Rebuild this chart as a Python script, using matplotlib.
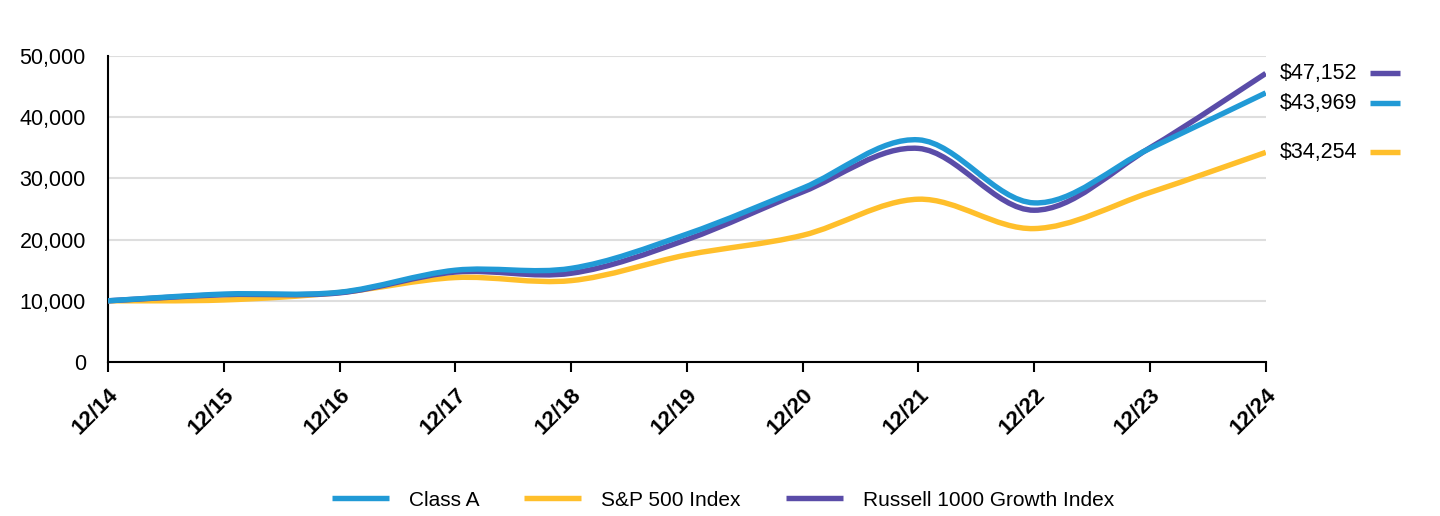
import matplotlib
matplotlib.use("Agg")
import matplotlib.pyplot as plt
from matplotlib.path import Path
from matplotlib.patches import PathPatch
from matplotlib.lines import Line2D
import numpy as np

plt.rcParams['font.family'] = ['Liberation Sans', 'DejaVu Sans']

# data
periods = ["12/14", "12/15", "12/16", "12/17", "12/18", "12/19",
           "12/20", "12/21", "12/22", "12/23", "12/24"]
class_a = [10000, 11100, 11400, 15000, 15300, 20900, 28400, 36300, 26000, 34900, 43969]
sp500 = [10000, 10140, 11350, 13800, 13300, 17500, 20700, 26600, 21800, 27700, 34254]
russell = [10000, 11000, 11300, 14700, 14500, 20000, 27800, 34900, 24800, 35000, 47152]
end_labels = ["$43,969", "$34,254", "$47,152"]

names = ["Class A", "S&P 500 Index", "Russell 1000 Growth Index"]
colors = ["#219ad6", "#ffbf2b", "#5a4ca8"]


def smooth_path(x, y, tension=1 / 6):
    # catmull-rom style cubic bezier through the points
    x = np.asarray(x, float)
    y = np.asarray(y, float)
    verts = [(x[0], y[0])]
    codes = [Path.MOVETO]
    n = len(x)
    for i in range(n - 1):
        p0 = (x[max(i - 1, 0)], y[max(i - 1, 0)])
        p1 = (x[i], y[i])
        p2 = (x[i + 1], y[i + 1])
        p3 = (x[min(i + 2, n - 1)], y[min(i + 2, n - 1)])
        c1 = (p1[0] + (p2[0] - p0[0]) * tension, p1[1] + (p2[1] - p0[1]) * tension)
        c2 = (p2[0] - (p3[0] - p1[0]) * tension, p2[1] - (p3[1] - p1[1]) * tension)
        verts += [c1, c2, p2]
        codes += [Path.CURVE4] * 3
    return Path(verts, codes)


fig = plt.figure(figsize=(14.4, 5.16), dpi=100)
ax = fig.add_axes([0.075, 0.2984, 0.804, 0.5931])

xs = np.arange(len(periods))
series = [class_a, sp500, russell]
# draw order: yellow, purple, blue on top
for idx in [1, 2, 0]:
    patch = PathPatch(smooth_path(xs, series[idx]), facecolor='none',
                      edgecolor=colors[idx], lw=3.9, capstyle='butt', zorder=3)
    ax.add_patch(patch)

ax.set_xlim(0, len(periods) - 1)
ax.set_ylim(0, 50000)
ax.set_yticks(range(0, 50001, 10000))
ax.set_yticklabels([f"{v:,}" for v in range(0, 50001, 10000)], fontsize=15.5)
ax.set_xticks(xs)
ax.set_xticklabels(periods, rotation=45, ha='right', va='top',
                   rotation_mode='anchor', fontsize=16, fontweight='bold')
ax.tick_params(axis='y', length=0, pad=16)
ax.tick_params(axis='x', length=7, width=1.5, direction='out', pad=9)
ax.grid(axis='y', color='#dedede', lw=1.5)
ax.set_axisbelow(True)
for s in ['top', 'right']:
    ax.spines[s].set_visible(False)
ax.spines['left'].set_linewidth(1.5)
ax.spines['bottom'].set_linewidth(1.5)

# end value labels with little colour dashes
label_shift = [-1700, 0, 0]
trans = ax.get_yaxis_transform()
for i in range(3):
    yv = series[i][-1] + label_shift[i]
    ax.text(1.012, yv, end_labels[i], transform=trans, fontsize=15.5,
            va='center', ha='left', clip_on=False)
    ax.add_line(Line2D([1.09, 1.116], [yv, yv], transform=trans, color=colors[i],
                       lw=3.9, solid_capstyle='butt', clip_on=False))

handles = [Line2D([], [], color=c, lw=3.9, solid_capstyle='butt') for c in colors]
fig.legend(handles, names, loc='center', bbox_to_anchor=(0.502, 0.031), ncol=3,
           frameon=False, fontsize=15, handlelength=2.74, handletextpad=0.96,
           columnspacing=2.16)

fig.savefig("out.png", dpi=100)
